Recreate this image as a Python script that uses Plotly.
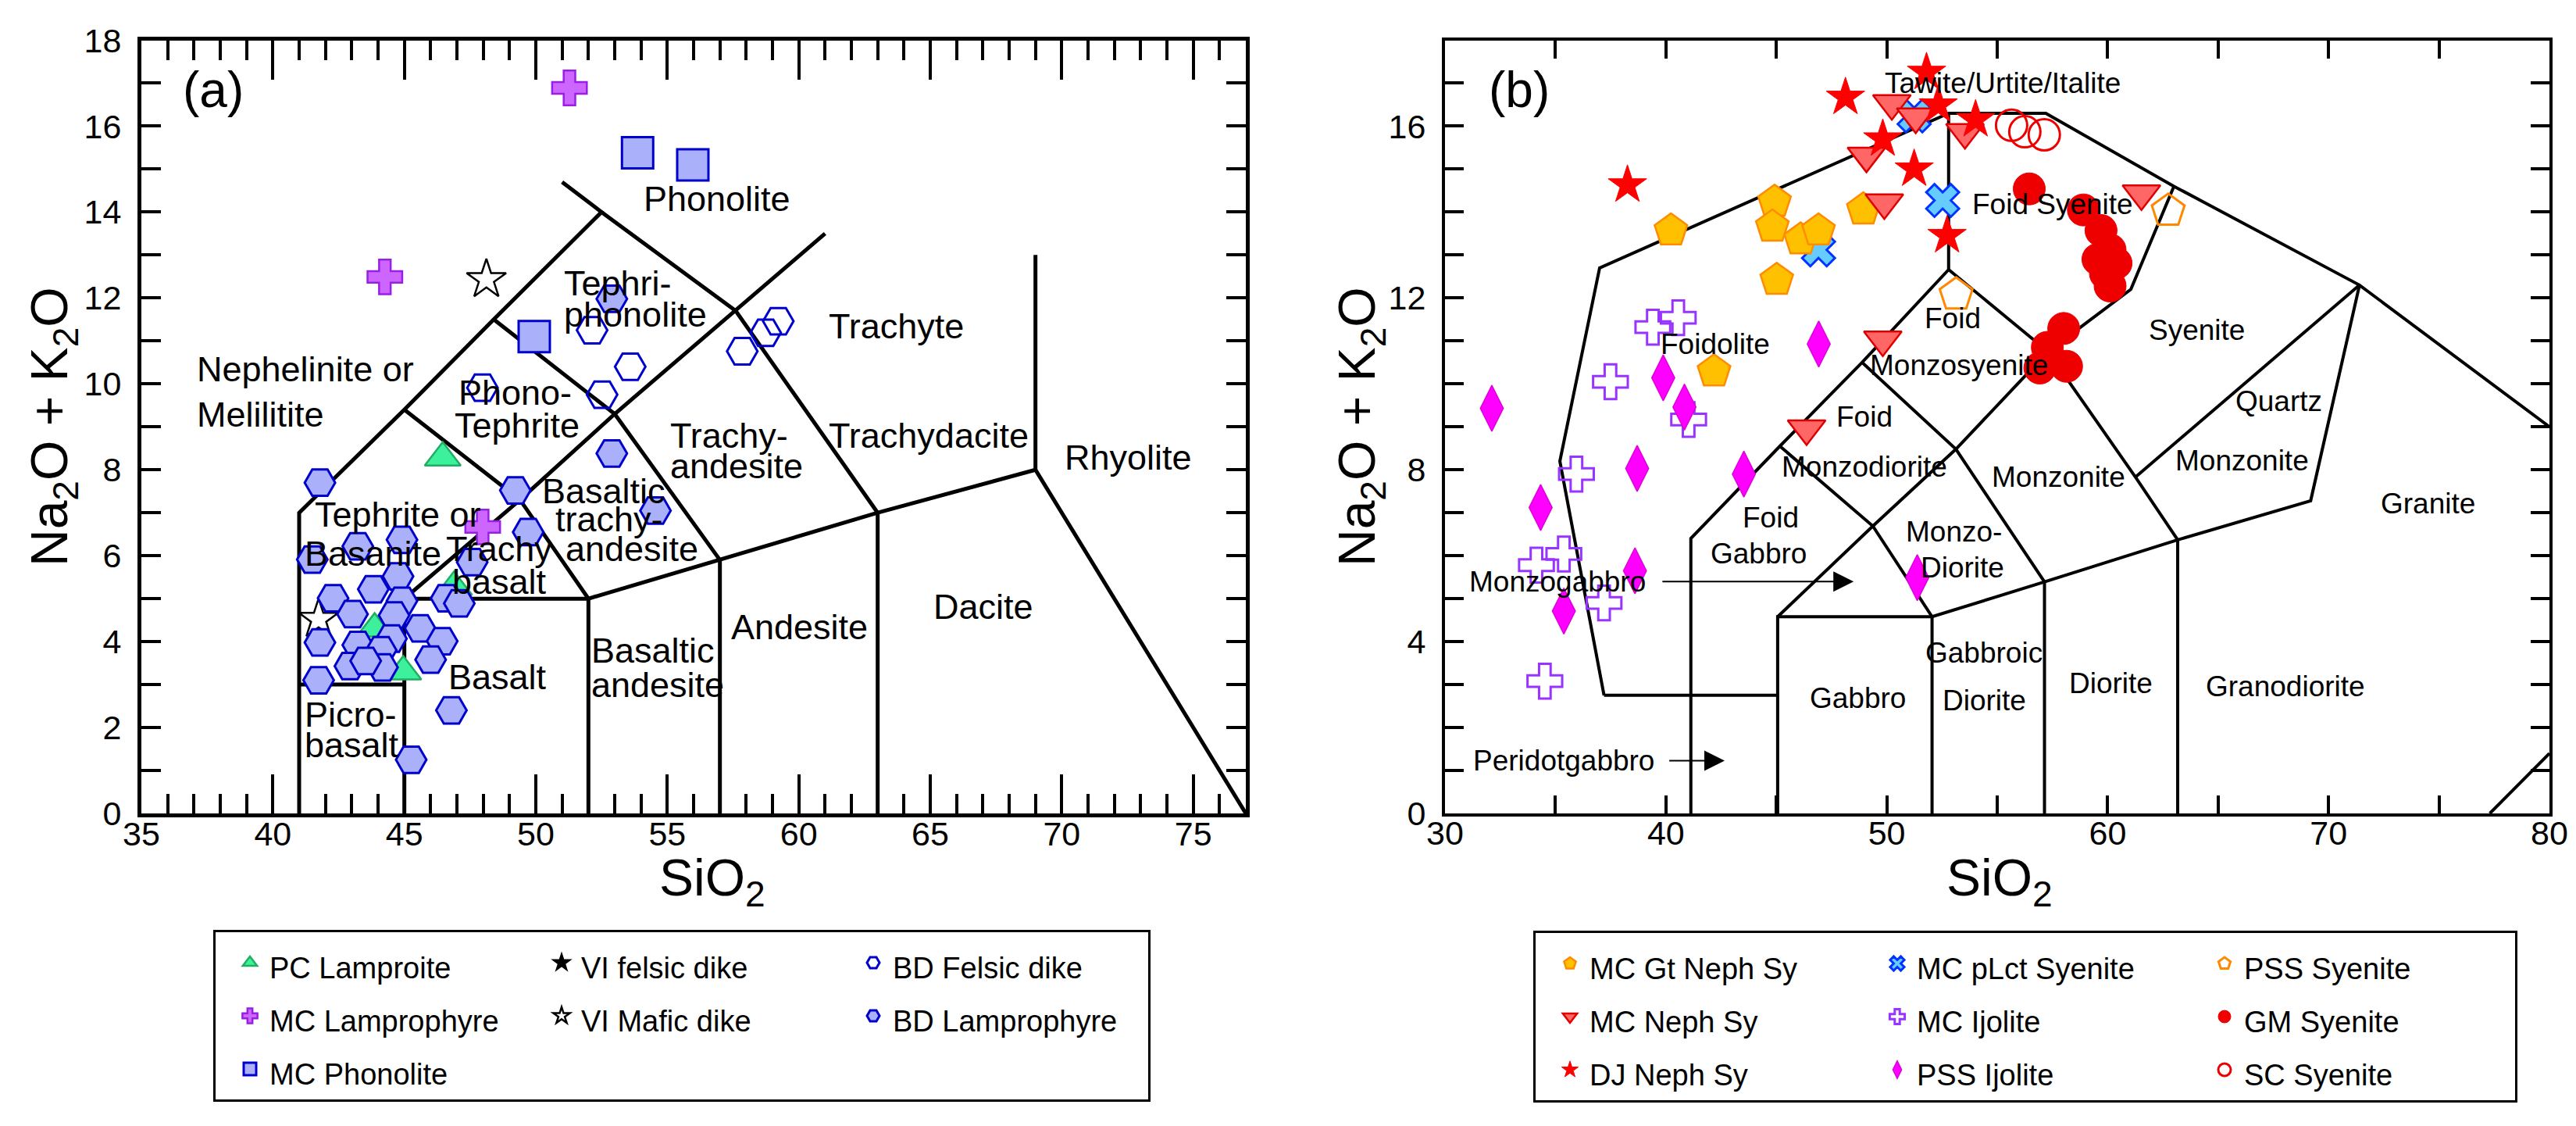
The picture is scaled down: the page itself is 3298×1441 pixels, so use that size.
import plotly.graph_objects as go

W, H = 3298, 1441
FONT = "Liberation Sans, Arial, Helvetica, sans-serif"

# ---------------- panel (a) data : volcanic TAS ----------------
pc_lamproite_x = [46.46, 43.87, 44.96, 46.89]
pc_lamproite_y = [8.28, 4.30, 3.30, 5.27]
vi_felsic_x = [None]
vi_felsic_y = [None]
vi_mafic_x = [48.12, 41.74]
vi_mafic_y = [12.43, 4.52]
mc_lamprophyre_x = [51.28, 44.26, 47.98]
mc_lamprophyre_y = [16.89, 12.49, 6.67]
mc_phonolite_x = [49.94, 53.87, 55.97]
mc_phonolite_y = [11.10, 15.38, 15.10]
bd_felsic_x = [47.97, 52.52, 52.14, 53.59, 57.85, 58.74, 59.22]
bd_felsic_y = [9.91, 9.75, 11.25, 10.40, 10.76, 11.19, 11.46]
bd_lamprophyre_x = [41.79, 49.22, 49.71, 43.23, 44.91, 41.50, 47.58, 44.76, 43.82, 42.29,
                    44.91, 46.59, 47.09, 43.03, 44.61, 45.60, 41.79, 43.23, 44.51, 46.44,
                    44.12, 42.93, 44.17, 46.00, 41.74, 46.79, 45.26, 43.53, 52.89, 54.55, 52.89]
bd_lamprophyre_y = [7.70, 7.52, 6.55, 6.22, 6.37, 5.91, 5.85, 5.52, 5.22, 5.01,
                    4.95, 5.01, 4.89, 4.64, 4.61, 4.31, 3.98, 3.92, 4.07, 4.01,
                    3.80, 3.43, 3.40, 3.58, 3.10, 2.40, 1.25, 3.55, 8.38, 7.05, 11.98]

# ---------------- panel (b) data : plutonic TAS ----------------
mc_gt_neph_x = [40.23, 44.92, 44.82, 46.10, 46.91, 48.94, 45.02, 42.18]
mc_gt_neph_y = [13.57, 14.24, 13.66, 13.36, 13.57, 14.06, 12.42, 10.29]
mc_neph_x = [50.23, 51.31, 53.54, 49.08, 49.89, 61.53, 49.82, 46.37]
mc_neph_y = [16.53, 16.22, 15.86, 15.31, 14.22, 14.43, 11.03, 8.96]
dj_neph_x = [38.26, 48.13, 51.80, 52.33, 54.02, 49.82, 51.24, 52.73]
dj_neph_y = [14.63, 16.67, 17.25, 16.49, 16.15, 15.70, 15.00, 13.45]
mc_plct_x = [51.24, 52.53, 46.91]
mc_plct_y = [16.24, 14.27, 13.12]
mc_ijolite_x = [39.41, 40.56, 37.49, 41.03, 35.95, 35.38, 34.14, 37.20, 34.52]
mc_ijolite_y = [11.32, 11.54, 10.05, 9.17, 7.90, 6.04, 5.78, 4.90, 3.08]
pss_ijolite_x = [32.12, 39.88, 40.84, 46.92, 38.70, 34.33, 43.53, 38.60, 35.38, 51.38]
pss_ijolite_y = [9.43, 10.14, 9.46, 10.93, 8.03, 7.12, 7.90, 5.65, 4.71, 5.49]
pss_syenite_x = [53.14, 62.74]
pss_syenite_y = [12.08, 14.03]
gm_syenite_x = [56.45, 58.90, 59.70, 60.11, 59.56, 60.38, 59.90, 60.11, 58.01, 57.27, 58.14, 56.93]
gm_syenite_y = [14.54, 14.05, 13.57, 13.12, 12.90, 12.81, 12.57, 12.28, 11.29, 10.85, 10.41, 10.37]
sc_syenite_x = [55.65, 56.25, 57.13]
sc_syenite_y = [16.02, 15.87, 15.80]

# ---------------- classification boundaries ----------------
tas_a_lines = [
    [(41, 0), (41, 7), (45, 9.4), (48.4, 11.5), (52.5, 14), (51.0, 14.7)],
    [(41, 3), (45, 3)],
    [(45, 0), (45, 5), (52, 5), (57, 5.9), (63, 7), (69, 8), (77, 0)],
    [(52, 0), (52, 5)],
    [(57, 0), (57, 5.9)],
    [(63, 0), (63, 7)],
    [(69, 8), (69, 13)],
    [(45, 5), (49.4, 7.3), (53, 9.3), (57.6, 11.7), (61, 13.5)],
    [(45, 9.4), (49.4, 7.3), (52, 5)],
    [(48.4, 11.5), (53, 9.3), (57, 5.9)],
    [(52.5, 14), (57.6, 11.7), (63, 7)],
]
tas_b_lines = [
    [(37.2, 2.75), (35.2, 8.2), (37.0, 12.7), (52.8, 16.3), (57.2, 16.3), (63.0, 14.6), (71.4, 12.3), (80.0, 9.0)],
    [(37.2, 2.75), (45.06, 2.75)],
    [(41.13, 0), (41.13, 6.4), (45.16, 8.55), (48.88, 10.5), (52.8, 12.66), (52.8, 16.3)],
    [(45.06, 0), (45.06, 4.58), (52.05, 4.58), (57.14, 5.39), (63.17, 6.37), (69.19, 7.28), (71.4, 12.3)],
    [(52.05, 0), (52.05, 4.58)],
    [(57.14, 0), (57.14, 5.39)],
    [(63.17, 0), (63.17, 6.37)],
    [(45.06, 4.58), (49.37, 6.69), (53.13, 8.48), (57.3, 10.75), (61.05, 12.2), (63.0, 14.6)],
    [(45.16, 8.55), (49.37, 6.69), (52.05, 4.58)],
    [(48.88, 10.5), (53.13, 8.48), (57.14, 5.39)],
    [(52.8, 12.66), (57.3, 10.75), (61.26, 7.83), (63.17, 6.37)],
    [(61.26, 7.83), (71.4, 12.3)],
    [(77.3, 0), (80.0, 1.4)],
]

# ---------------- field labels ----------------
a_label_text = ["Nephelinite or", "Melilitite", "Phono-", "Tephrite", "Tephri-", "phonolite",
                "Phonolite", "Trachyte", "Trachy-", "andesite", "Trachydacite", "Rhyolite",
                "Dacite", "Andesite", "Basaltic", "andesite", "Basaltic", "trachy-", "andesite",
                "Tephrite or", "Basanite", "Trachy", "basalt", "Basalt", "Picro-", "basalt"]
a_label_x = [37.05, 37.05, 49.2, 49.29, 51.01, 51.01, 56.89, 63.72, 55.05, 55.05, 64.94, 72.54,
             67.02, 60.01, 52.05, 52.05, 50.18, 50.68, 51.07, 41.53, 41.15, 46.52, 46.76, 48.54,
             41.15, 41.15]
a_label_y = [10.35, 9.29, 9.8, 9.04, 12.35, 11.62, 14.31, 11.35, 8.8, 8.09, 8.8, 8.29,
             4.82, 4.33, 3.8, 3.0, 7.51, 6.85, 6.15, 6.95, 6.04, 6.15, 5.4, 3.18, 2.31, 1.6]
a_label_anchor = ["left", "left", "center", "center", "left", "left", "center", "center", "left",
                  "left", "center", "center", "center", "center", "left", "left", "left", "left",
                  "left", "left", "left", "left", "left", "center", "left", "left"]

b_label_text = ["Tawite/Urtite/Italite", "Foid Syenite", "Foidolite", "Foid", "Monzosyenite",
                "Foid", "Monzodiorite", "Foid", "Gabbro", "Monzo-", "Diorite", "Gabbro",
                "Gabbroic", "Diorite", "Diorite", "Granodiorite", "Monzonite", "Quartz",
                "Monzonite", "Granite", "Syenite", "Monzogabbro", "Peridotgabbro"]
b_label_x = [55.24, 57.5, 42.23, 53.0, 53.27, 49.0, 48.99, 44.73, 44.2, 53.02, 53.41, 48.7,
             54.4, 54.42, 60.15, 68.05, 57.76, 67.76, 66.07, 74.5, 64.02, 35.09, 35.38]
b_label_y = [17.0, 14.18, 10.93, 11.53, 10.44, 9.23, 8.06, 6.89, 6.04, 6.56, 5.72, 2.69,
             3.73, 2.62, 3.02, 2.95, 7.83, 9.59, 8.22, 7.22, 11.26, 5.40, 1.23]
b_arrow_start_x = [39.79, 40.10]
b_arrow_end_x = [48.5, 42.66]
b_arrow_y = [5.40, 1.23]

fig = go.Figure()


def add_lines(lines, xa, ya, width):
    xs, ys = [], []
    for seg in lines:
        for px, py in seg:
            xs.append(px)
            ys.append(py)
        xs.append(None)
        ys.append(None)
    fig.add_trace(go.Scatter(x=xs, y=ys, mode="lines", xaxis=xa, yaxis=ya,
                             line=dict(color="black", width=width),
                             showlegend=False, hoverinfo="skip"))


add_lines(tas_a_lines, "x", "y", 5)
add_lines(tas_b_lines, "x2", "y2", 4)

LEGEND_TEXT = '<span style="font-size:38px">%s</span>'


def add_pts(name, x, y, symbol, size, fill, edge, lw, xa, ya, legend, group, rank):
    fig.add_trace(go.Scatter(
        x=x, y=y, mode="markers", name=LEGEND_TEXT % name, xaxis=xa, yaxis=ya,
        legend=legend, legendgroup=group, legendrank=rank,
        marker=dict(symbol=symbol, size=size, color=fill,
                    line=dict(color=edge, width=lw))))


# panel (a) in drawing order
add_pts("PC Lamproite", pc_lamproite_x, pc_lamproite_y, "triangle-up", 40, "#3cf09c", "#1fae63", 2.5, "x", "y", "legend", "a1", 1)
add_pts("VI felsic dike", vi_felsic_x, vi_felsic_y, "star", 38, "black", "black", 2, "x", "y", "legend", "a2", 4)
add_pts("VI Mafic dike", vi_mafic_x, vi_mafic_y, "star-open", 38, "black", "black", 2.5, "x", "y", "legend", "a2", 5)
add_pts("MC Lamprophyre", mc_lamprophyre_x, mc_lamprophyre_y, "cross", 37, "#cc66ff", "#9a1ee6", 2.5, "x", "y", "legend", "a1", 2)
add_pts("MC Phonolite", mc_phonolite_x, mc_phonolite_y, "square", 40, "#aab0fa", "#0000cc", 3, "x", "y", "legend", "a1", 3)
add_pts("BD Felsic dike", bd_felsic_x, bd_felsic_y, "hexagon2-open", 39, "#0000cc", "#0000cc", 3, "x", "y", "legend", "a3", 6)
add_pts("BD Lamprophyre", bd_lamprophyre_x, bd_lamprophyre_y, "hexagon2", 39, "#aab0fa", "#0000cc", 3, "x", "y", "legend", "a3", 7)

# panel (b) in drawing order
add_pts("MC pLct Syenite", mc_plct_x, mc_plct_y, "x", 37, "#66ccff", "#0033ff", 3, "x2", "y2", "legend2", "b2", 4)
add_pts("MC Gt Neph Sy", mc_gt_neph_x, mc_gt_neph_y, "pentagon", 44, "#ffc000", "#ff8c00", 2.5, "x2", "y2", "legend2", "b1", 1)
add_pts("MC Neph Sy", mc_neph_x, mc_neph_y, "triangle-down", 42, "#ff6666", "#e00000", 2.5, "x2", "y2", "legend2", "b1", 2)
add_pts("DJ Neph Sy", dj_neph_x, dj_neph_y, "star", 37, "#ff0000", "#ff0000", 1, "x2", "y2", "legend2", "b1", 3)
add_pts("MC Ijolite", mc_ijolite_x, mc_ijolite_y, "cross-open", 37, "#9933ff", "#9933ff", 3, "x2", "y2", "legend2", "b2", 5)
add_pts("PSS Ijolite", pss_ijolite_x, pss_ijolite_y, "diamond-tall", 42, "#ff00ff", "#dd00dd", 1.5, "x2", "y2", "legend2", "b2", 6)
add_pts("PSS Syenite", pss_syenite_x, pss_syenite_y, "pentagon-open", 44, "#ff8800", "#ff8800", 3, "x2", "y2", "legend2", "b3", 7)
add_pts("GM Syenite", gm_syenite_x, gm_syenite_y, "circle", 41, "#ee0000", "#ee0000", 1, "x2", "y2", "legend2", "b3", 8)
add_pts("SC Syenite", sc_syenite_x, sc_syenite_y, "circle-open", 40, "#ee0000", "#ee0000", 3, "x2", "y2", "legend2", "b3", 9)

annotations = []
for t, x, y, a in zip(a_label_text, a_label_x, a_label_y, a_label_anchor):
    annotations.append(dict(text=t, x=x, y=y, xref="x", yref="y", xanchor=a, yanchor="middle",
                            showarrow=False, font=dict(size=45, family=FONT, color="black")))
for t, x, y in zip(b_label_text, b_label_x, b_label_y):
    annotations.append(dict(text=t, x=x, y=y, xref="x2", yref="y2", xanchor="center", yanchor="middle",
                            showarrow=False, font=dict(size=37, family=FONT, color="black")))
for xs, xe, y in zip(b_arrow_start_x, b_arrow_end_x, b_arrow_y):
    annotations.append(dict(text="", x=xe, y=y, ax=xs, ay=y, xref="x2", yref="y2", axref="x2", ayref="y2",
                            showarrow=True, arrowhead=2, arrowsize=2.6, arrowwidth=2, arrowcolor="black"))
# panel letters
annotations.append(dict(text="(a)", x=37.73, y=16.84, xref="x", yref="y", showarrow=False,
                        font=dict(size=64, family=FONT, color="black")))
annotations.append(dict(text="(b)", x=33.36, y=16.84, xref="x2", yref="y2", showarrow=False,
                        font=dict(size=64, family=FONT, color="black")))
# axis titles
ytitle = "Na<sub>2</sub>O + K<sub>2</sub>O"
xtitle = "SiO<sub>2</sub>"
for px in [60, 1734]:
    annotations.append(dict(text=ytitle, x=px / W, y=1 - 538 / H, xref="paper", yref="paper",
                            textangle=-90, showarrow=False, xanchor="center", yanchor="middle",
                            font=dict(size=66, family=FONT, color="black")))
for px in [904, 2552]:
    annotations.append(dict(text=xtitle, x=px / W, y=1 - 1120 / H, xref="paper", yref="paper",
                            showarrow=False, xanchor="center", yanchor="middle",
                            font=dict(size=66, family=FONT, color="black")))

tickfont = dict(size=43, family=FONT, color="black")


def axis(domain, rng, dtick, minor_dtick, ticklen, minor_len, anchor, lw, standoff):
    return dict(domain=domain, range=rng, dtick=dtick, tick0=rng[0], ticks="inside",
                ticklen=ticklen, tickwidth=4, tickcolor="black",
                minor=dict(dtick=minor_dtick, ticklen=minor_len, tickwidth=4, tickcolor="black", ticks="inside"),
                showline=True, linewidth=lw, linecolor="black", mirror="allticks",
                showgrid=False, zeroline=False, tickfont=tickfont, anchor=anchor,
                ticklabelstandoff=standoff, fixedrange=True)


ydom = [1 - 1033 / H, 1 - 43.5 / H]
legend_common = dict(xanchor="left", yanchor="top", orientation="h", traceorder="grouped",
                     bordercolor="black", borderwidth=3, bgcolor="white",
                     font=dict(size=50, family=FONT, color="black"),
                     itemwidth=40, indentation=22)
layout = dict(
    width=W, height=H, paper_bgcolor="white", plot_bgcolor="white",
    margin=dict(l=0, r=0, t=0, b=0, autoexpand=False),
    xaxis=axis([173 / W, 1587 / W], [35, 77], 5, 1, 50, 25, "y", 5, -16),
    yaxis=axis(ydom, [0, 18], 2, 1, 25, 25, "x", 5, 12),
    xaxis2=axis([1842 / W, 3256 / W], [30, 80], 10, 5, 23, 23, "y2", 4, -16),
    yaxis2=axis(ydom, [0, 18], 4, 1, 24, 24, "x2", 4, 12),
    annotations=annotations,
    legend=dict(x=265 / W, y=1 - 1182 / H, entrywidth=322, **legend_common),
    legend2=dict(x=1955 / W, y=1 - 1183 / H, entrywidth=342, **legend_common),
    showlegend=True,
)
fig.update_layout(**layout)
fig.write_html("out.html")
